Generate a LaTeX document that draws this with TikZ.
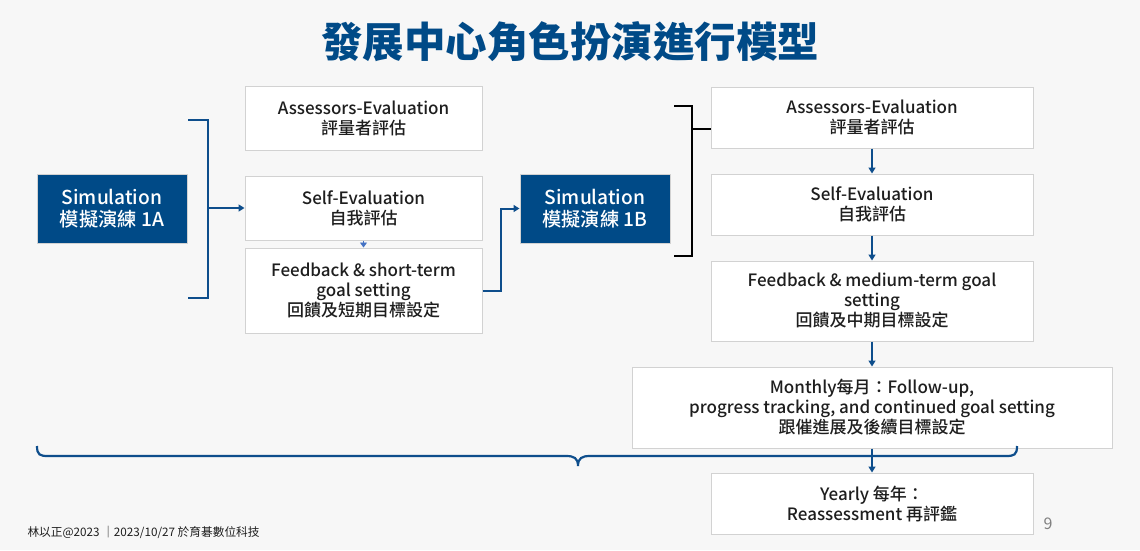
\documentclass[tikz,border=0pt]{standalone}
\usepackage{fontspec}
\setmainfont{Noto Sans CJK TC}
\newfontfamily\medfont{Noto Sans CJK TC Medium}
\usepackage{tikz}
\usetikzlibrary{positioning, arrows.meta, calc}
\usepackage{xcolor}
\definecolor{navy}{RGB}{0,74,135}
\definecolor{linkblue}{RGB}{14,78,140}
\definecolor{lightblue}{RGB}{68,114,196}
\definecolor{boxline}{RGB}{210,210,210}
\definecolor{bgc}{RGB}{247,247,247}
\definecolor{ink}{RGB}{30,30,30}

\begin{document}
\begin{tikzpicture}[x=1pt, y=-1pt,
  box/.style={draw=boxline, fill=white, line width=1pt, align=center, inner sep=0pt, text=ink, font=\medfont\fontsize{17}{20}\selectfont},
  simbox/.style={fill=navy, draw=boxline, line width=1pt, align=center, inner sep=0pt, text=white, minimum width=150pt, minimum height=69pt, font=\medfont\fontsize{19.2}{22}\selectfont},
  link/.style={linkblue, line width=2pt, -{Triangle[length=6pt, width=7pt]}},
  bracket/.style={linkblue, line width=2.2pt}]
  % background and title
  \fill[bgc] (0,0) rectangle (1140,550);
  \node[text=navy, font=\bfseries\fontsize{41.5}{44}\selectfont] (title) at (570,42) {發展中心角色扮演進行模型};
  % first round
  \node[simbox] (simA) at (112,208.5) {Simulation\\模擬演練 1A};
  \node[box, minimum width=237pt, minimum height=64pt] (assessA) at (363.5,118) {Assessors-Evaluation\\評量者評估};
  \node[box, minimum width=237pt, minimum height=64pt] (selfA) at (363.5,208) {Self-Evaluation\\自我評估};
  \node[box, minimum width=237pt, minimum height=85pt] (feedA) at (363.5,290.5) {Feedback \& short-term\\goal setting\\回饋及短期目標設定};
  \draw[bracket] (188,120) -- (208,120) -- (208,298) -- (188,298);
  \coordinate (brA) at (208,208);
  \draw[link] (brA) -- (selfA.west);
  \draw[lightblue, line width=0.6pt, -{Triangle[length=5pt, width=7pt]}] (selfA.south) -- (feedA.north);
  % second round
  \node[simbox] (simB) at (595,208.5) {Simulation\\模擬演練 1B};
  \draw[link] (feedA.east) -- ++(18,0) |- (simB.west);
  \node[box, minimum width=322pt, minimum height=61pt] (assessB) at (872,117.5) {Assessors-Evaluation\\評量者評估};
  \node[box, minimum width=322pt, minimum height=61pt] (selfB) at (872,204.5) {Self-Evaluation\\自我評估};
  \node[box, minimum width=322pt, minimum height=80pt] (feedB) at (872,301) {Feedback \& medium-term goal\\setting\\回饋及中期目標設定};
  \node[box, minimum width=480pt, minimum height=81pt] (month) at (872,407.5) {Monthly每月：Follow-up,\\progress tracking, and continued goal setting\\跟催進展及後續目標設定};
  \node[box, minimum width=322pt, minimum height=61pt] (year) at (872,503.5) {Yearly 每年：\\Reassessment 再評鑑};
  \draw[black, line width=2.5pt] (674,106) -- (692,106) -- (692,256) -- (674,256);
  \coordinate (brB) at (692,129);
  \draw[black, line width=2.5pt] (brB) -- (assessB.west |- brB);
  \draw[link] (assessB) -- (selfB);
  \draw[link] (selfB) -- (feedB);
  \draw[link] (feedB) -- (month);
  % brace under everything
  \draw[bracket] (37,446) .. controls (37,455) and (40,456) .. (48,456) -- (566,456)
    .. controls (574,456) and (578,458) .. (578,466)
    .. controls (578,458) and (582,456) .. (590,456) -- (1006,456)
    .. controls (1014,456) and (1017,455) .. (1017,446);
  \draw[link] (month) -- (year);
  % footer
  \node[text=gray, font=\fontsize{16}{18}\selectfont] (page) at (1048,524) {9};
  \node[anchor=west, text=ink, font=\fontsize{11.7}{13}\selectfont] (foot) at (24,532) {林以正@2023 ｜2023/10/27 於育碁數位科技};
\end{tikzpicture}
\end{document}
